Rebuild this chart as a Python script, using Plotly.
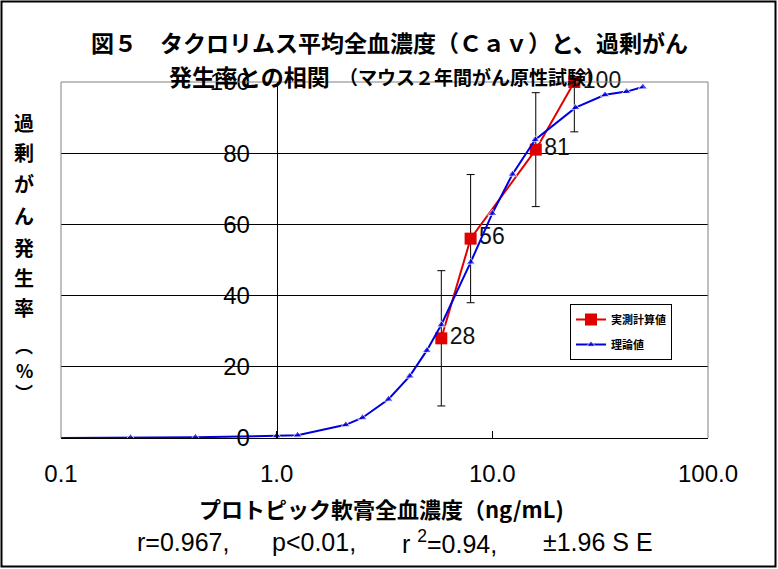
import plotly.graph_objects as go

# ---- data ----
x_measured = [5.8, 7.93, 15.9, 24.0]
y_measured = [28, 56, 81, 100]
err_measured = [19, 18, 16, 14]
labels_measured = ["28", "56", "81", "100"]

x_theory = [0.1, 0.21, 0.42, 1.0, 1.25, 2.09, 2.5, 3.3, 4.14, 4.97, 5.8,
            7.94, 10.0, 12.4, 15.8, 24.3, 33.3, 41.9, 49.9]
y_theory = [0, 0.1, 0.2, 0.6, 0.8, 3.7, 5.7, 10.9, 17.4, 24.6, 31.8,
            49.4, 63.1, 74.1, 83.8, 92.8, 96.4, 97.3, 98.6]

x_tickvals = [0.1, 1, 10, 100]
x_ticktext = ["0.1", "1.0", "10.0", "100.0"]
y_tickvals = [0, 20, 40, 60, 80, 100]

series_names = ["実測計算値", "理論値"]
title_line1 = "図５　タクロリムス平均全血濃度（Ｃａｖ）と、過剰がん"
title_line2a = "発生率との相関"
title_line2b = "（マウス２年間がん原性試験）"
x_title = "プロトピック軟膏全血濃度（ng/mL)"
y_title_chars = ["過", "剰", "が", "ん", "発", "生", "率", "︵", "%", "︶"]
footer_parts = ["r=0.967,", "p<0.01,", "r <sup>2</sup>=0.94,", "±1.96 S E"]

JP = "Noto Sans CJK JP"
LAT = "Liberation Sans"

W, H = 778, 569
L, R, T, B = 61, 70, 82, 131
PW, PH = W - L - R, H - T - B


def px(x):
    return (x - L) / PW


def py(y):
    return (H - B - y) / PH


fig = go.Figure()

# error bars (clipped to plot area)
fig.add_trace(go.Scatter(
    x=x_measured, y=y_measured, mode="markers",
    marker=dict(size=1, opacity=0),
    error_y=dict(type="data", array=err_measured, visible=True,
                 color="black", thickness=1, width=4),
    showlegend=False, hoverinfo="skip", cliponaxis=True,
))

fig.add_trace(go.Scatter(
    x=x_measured, y=y_measured, mode="lines+markers+text",
    name=series_names[0], legendgroup="a",
    line=dict(color="#e00000", width=2),
    marker=dict(symbol="square", size=12, color="#e00000"),
    text=labels_measured, textposition="middle right",
    textfont=dict(family=LAT, size=23, color="#111111"),
    cliponaxis=False,
))

fig.add_trace(go.Scatter(
    x=x_theory, y=y_theory, mode="lines+markers",
    name=series_names[1], legendgroup="b",
    line=dict(color="#0000dd", width=2),
    marker=dict(symbol="triangle-up", size=[0] + [8] * (len(x_theory) - 1),
                color="#0000dd"),
    cliponaxis=True,
))

# gray plot-area frame (left, top, right)
fig.add_shape(type="path", xref="paper", yref="paper",
              path="M 0 0 L 0 1 L 1 1 L 1 0",
              line=dict(color="#808080", width=1), layer="above")
# outer chart border
fig.add_shape(type="rect", xref="paper", yref="paper",
              x0=px(1.5), x1=px(775.5), y0=py(566.5), y1=py(1.5),
              line=dict(color="black", width=2), layer="above")

ann = []
ann.append(dict(text=title_line1, x=px(389), y=py(42), xref="paper", yref="paper",
                showarrow=False, xanchor="center", yanchor="middle",
                font=dict(family=JP, size=23, color="black", weight="bold")))
ann.append(dict(text=title_line2a, x=px(332), y=py(76), xref="paper", yref="paper",
                showarrow=False, xanchor="right", yanchor="middle",
                font=dict(family=JP, size=23, color="black", weight="bold")))
ann.append(dict(text=title_line2b, x=px(337), y=py(77), xref="paper", yref="paper",
                showarrow=False, xanchor="left", yanchor="middle",
                font=dict(family=JP, size=19, color="black", weight="bold")))
ann.append(dict(text=x_title, x=px(381), y=py(508), xref="paper", yref="paper",
                showarrow=False, xanchor="center", yanchor="middle",
                font=dict(family=JP, size=22, color="black", weight="bold")))
for part, xx in zip(footer_parts, [135, 270, 400, 541]):
    ann.append(dict(text=part, x=px(xx), y=py(542), xref="paper", yref="paper",
                    showarrow=False, xanchor="left", yanchor="middle",
                    font=dict(family=LAT, size=25, color="black")))
ychar_pos = [122, 152, 183, 215, 247, 277, 307, 345, 370, 392]
ychar_size = [20, 20, 20, 20, 20, 20, 20, 18, 18, 18]
for ch, yy, sz in zip(y_title_chars, ychar_pos, ychar_size):
    ann.append(dict(text=ch, x=px(24), y=py(yy), xref="paper", yref="paper",
                    showarrow=False, xanchor="center", yanchor="middle",
                    font=dict(family=JP, size=sz, color="black", weight="bold")))

fig.update_layout(
    width=W, height=H,
    margin=dict(l=L, r=R, t=T, b=B),
    paper_bgcolor="white", plot_bgcolor="white",
    annotations=ann,
    legend=dict(x=px(570), y=py(304), xanchor="left", yanchor="top",
                bgcolor="white", bordercolor="black", borderwidth=1,
                font=dict(family=JP, size=11, color="black", weight="bold"),
                tracegroupgap=6),
    xaxis=dict(type="log", range=[-1, 2], tickvals=x_tickvals, ticktext=x_ticktext,
               showgrid=False, zeroline=False, showline=True, linecolor="black",
               linewidth=1, ticks="inside", ticklen=7, tickcolor="black",
               tickfont=dict(family=LAT, size=24, color="black"),
               ticklabelstandoff=14),
    yaxis=dict(range=[0, 100], tickvals=y_tickvals, anchor="free", position=1 / 3,
               showgrid=True, gridcolor="black", gridwidth=1, zeroline=False,
               showline=True, linecolor="black", linewidth=1, ticks="",
               tickfont=dict(family=LAT, size=24, color="black"),
               ticklabelstandoff=22),
)

fig.write_html("out.html", config={"displayModeBar": False},
               post_script="document.body.style.margin='0';document.body.style.overflow='hidden';")
